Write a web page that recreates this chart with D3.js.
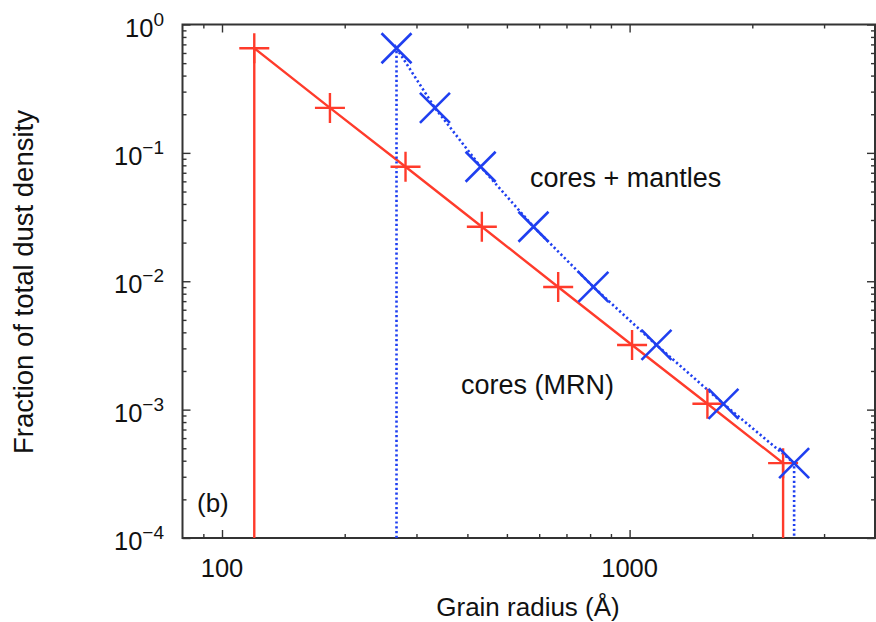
<!DOCTYPE html>
<html>
<head>
<meta charset="utf-8">
<script src="https://cdn.jsdelivr.net/npm/d3@7"></script>
<style>
  body { margin: 0; background: #fff; }
  svg { display: block; font-family: "Liberation Sans", Arial, Helvetica, sans-serif; }
</style>
</head>
<body>
<svg id="chart" width="876" height="622"></svg>
<script>
// data
const coresRadius   = [120, 184, 282, 434, 668, 1014, 1552, 2380];
const mantlesRadius = [268, 333, 431, 581, 815, 1164, 1699, 2533];
const fraction      = [0.653, 0.224, 0.078, 0.0266, 0.00903, 0.00319, 0.00111, 0.000383];
const xMajor = [100, 1000];
const xMinor = [90, 200, 300, 400, 500, 600, 700, 800, 900, 2000, 3000];
const yMajor = [1e-4, 1e-3, 1e-2, 1e-1, 1];
const yExp   = ["−4", "−3", "−2", "−1", "0"];

const width = 876, height = 622;
const margin = { left: 182.5, right: 875, top: 24.5, bottom: 538 };
const red = "#ff3b2b", blue = "#1f3ff0", frameCol = "#333";

const svg = d3.select("#chart");

const x = d3.scaleLog().domain([80, 4000]).range([margin.left, margin.right]);
const y = d3.scaleLog().domain([1e-4, 1]).range([margin.bottom, margin.top]);

const yMinor = [];
[1e-4, 1e-3, 1e-2, 1e-1].forEach(d => { for (let k = 2; k <= 9; k++) yMinor.push(d * k); });

// --- ticks (all pointing inward) ---
const tickAxis = (axisFn, scale, vals, size, transform) => {
    const g = svg.append("g").attr("transform", transform)
        .call(axisFn(scale).tickValues(vals).tickSize(size).tickFormat(""));
    g.select(".domain").remove();
    g.selectAll("line").attr("stroke", frameCol).attr("stroke-width", 1.4);
};
tickAxis(d3.axisBottom, x, xMajor, -8, `translate(0,${margin.bottom})`);
tickAxis(d3.axisBottom, x, xMinor, -4, `translate(0,${margin.bottom})`);
tickAxis(d3.axisTop, x, xMajor, -8, `translate(0,${margin.top})`);
tickAxis(d3.axisTop, x, xMinor, -4, `translate(0,${margin.top})`);
tickAxis(d3.axisLeft, y, yMajor, -8, `translate(${margin.left},0)`);
tickAxis(d3.axisLeft, y, yMinor, -4, `translate(${margin.left},0)`);
tickAxis(d3.axisRight, y, yMajor, -8, `translate(${margin.right},0)`);
tickAxis(d3.axisRight, y, yMinor, -4, `translate(${margin.right},0)`);

// frame
svg.append("rect")
    .attr("x", margin.left).attr("y", margin.top)
    .attr("width", margin.right - margin.left).attr("height", margin.bottom - margin.top)
    .attr("fill", "none").attr("stroke", frameCol).attr("stroke-width", 2);

// tick labels
svg.selectAll(".xlab").data(xMajor).enter().append("text")
    .attr("x", d => x(d)).attr("y", 577)
    .attr("text-anchor", "middle").attr("font-size", 25.5).attr("fill", "#111")
    .text(d => d);

const yl = svg.selectAll(".ylab").data(yMajor).enter().append("text")
    .attr("x", 164).attr("y", d => y(d) + 12)
    .attr("text-anchor", "end").attr("fill", "#111");
yl.append("tspan").attr("font-size", 25.5).text("10");
yl.append("tspan").attr("font-size", 19).attr("dy", -11).text((d, i) => yExp[i]);

// axis titles
svg.append("text").attr("x", 528).attr("y", 616)
    .attr("text-anchor", "middle").attr("font-size", 26).attr("fill", "#111")
    .text("Grain radius (Å)");
svg.append("text").attr("transform", "translate(33,282) rotate(-90)")
    .attr("text-anchor", "middle").attr("font-size", 27.5).attr("fill", "#111")
    .text("Fraction of total dust density");

// --- series ---
const line = d3.line().x(d => x(d[0])).y(d => y(d[1]));
const n = fraction.length;

const coresPts = coresRadius.map((r, i) => [r, fraction[i]]);
const coresPath = [[coresRadius[0], 1e-4], ...coresPts, [coresRadius[n - 1], 1e-4]];
svg.append("path").datum(coresPath).attr("d", line)
    .attr("fill", "none").attr("stroke", red).attr("stroke-width", 2.4);

const mantPts = mantlesRadius.map((r, i) => [r, fraction[i]]);
const mantPath = [[mantlesRadius[0], 1e-4], ...mantPts, [mantlesRadius[n - 1], 1e-4]];
svg.append("path").datum(mantPath).attr("d", line)
    .attr("fill", "none").attr("stroke", blue).attr("stroke-width", 2.6)
    .attr("stroke-dasharray", "2.2,2.6");

// plus markers
const s = 15;
svg.selectAll(".plus").data(coresPts).enter().append("path")
    .attr("d", d => `M${x(d[0]) - s},${y(d[1])}h${2 * s}M${x(d[0])},${y(d[1]) - s}v${2 * s}`)
    .attr("stroke", red).attr("stroke-width", 2.4).attr("fill", "none");

// cross markers
svg.selectAll(".cross").data(mantPts).enter().append("path")
    .attr("d", d => `M${x(d[0]) - s},${y(d[1]) - s}l${2 * s},${2 * s}M${x(d[0]) - s},${y(d[1]) + s}l${2 * s},${-2 * s}`)
    .attr("stroke", blue).attr("stroke-width", 2.6).attr("fill", "none");

// annotations
svg.append("text").attr("x", 530).attr("y", 187).attr("font-size", 27).attr("fill", "#111")
    .text("cores + mantles");
svg.append("text").attr("x", 461).attr("y", 394).attr("font-size", 27).attr("fill", "#111")
    .text("cores (MRN)");
svg.append("text").attr("x", 197).attr("y", 512).attr("font-size", 26).attr("fill", "#111")
    .text("(b)");
</script>
</body>
</html>
